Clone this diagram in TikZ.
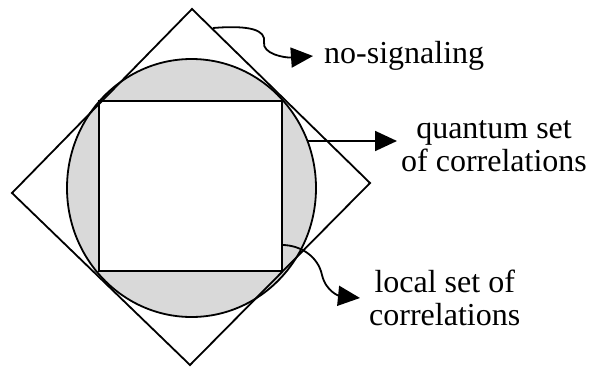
\documentclass[tikz,border=0pt]{standalone}
\usepackage{fontspec}
\setmainfont{Liberation Serif}
\usetikzlibrary{arrows.meta}
\definecolor{qfill}{HTML}{D9D9D9}
\tikzset{
  edge/.style={draw=black, line width=1.8pt},
  ptr/.style={-{Triangle[length=22pt,width=20pt]}, draw=black, line width=1.8pt},
  lbl/.style={font=\fontsize{32}{33.5}\selectfont, inner sep=6pt, align=center},
}

\begin{document}
\begin{tikzpicture}[x=1pt,y=-1pt]
  \useasboundingbox (0,0) rectangle (590,367);
  % quantum set
  \draw[edge, fill=qfill] (191.5,188.0) ellipse [x radius=124.5, y radius=129];
  % local set
  \draw[edge, fill=white] (99,101) rectangle (282,271);
  % no-signaling set
  \draw[edge, line join=miter] (192,9) -- (370,183) -- (190,365) -- (12,193) -- cycle;
  \coordinate (nsfrom) at (213,28);
  \coordinate (qfrom) at (307,141);
  \coordinate (lfrom) at (282,245);
  \node[lbl, anchor=west, inner xsep=11pt] (ns) at (313,56) {no-signaling};
  \node[lbl, anchor=west, inner xsep=4pt] (qs) at (397,146) {quantum set\\of correlations};
  \node[lbl, anchor=west, inner xsep=9pt] (lc) at (360,298) {local set of\\correlations};
  \draw[ptr] (nsfrom) .. controls (250,25) and (266,30) .. (264,42)
    .. controls (262,54) and (285,58) .. (ns.west);
  \draw[ptr] (qfrom) -- (qfrom -| qs.west);
  \draw[ptr] (lfrom) .. controls (300,245) and (318,256) .. (322,275)
    .. controls (326,292) and (340,296) .. (lc.west);
\end{tikzpicture}
\end{document}
